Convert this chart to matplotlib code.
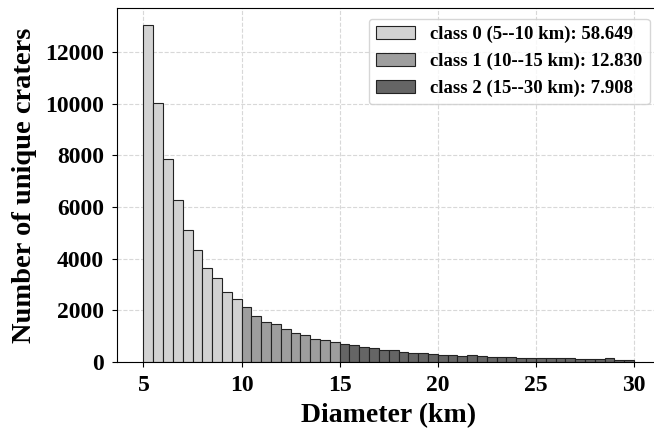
import numpy as np
import matplotlib
matplotlib.use("Agg")
import matplotlib.pyplot as plt

# histogram counts per 0.5 km bin
bin_width = 0.5
class0_counts = [13050, 10040, 7860, 6260, 5100, 4330, 3650, 3229, 2710, 2420]
class1_counts = [2140, 1760, 1530, 1480, 1280, 1095, 1045, 885, 845, 770]
class2_counts = [690, 635, 570, 540, 445, 470, 395, 340, 324, 315,
                 265, 262, 238, 275, 235, 198, 170, 168, 148, 130,
                 128, 127, 126, 125, 106, 105, 104, 145, 66, 63]
class_starts = [5, 10, 15]
class_labels = ["class 0 (5--10 km): 58.649",
                "class 1 (10--15 km): 12.830",
                "class 2 (15--30 km): 7.908"]
class_colors = ["#d2d2d2", "#9e9e9e", "#656565"]

plt.rcParams["font.family"] = ["Liberation Serif", "DejaVu Serif"]
plt.rcParams["font.weight"] = "bold"

fig = plt.figure(figsize=(6.54, 4.30), dpi=100)
# the right part of the axes runs past the picture edge, as in the reference
ax = fig.add_axes([0.1789, 0.1588, 0.831, 0.8219])

for start, counts, color, label in zip(class_starts,
                                       [class0_counts, class1_counts, class2_counts],
                                       class_colors, class_labels):
    left = start + bin_width * np.arange(len(counts))
    ax.bar(left, counts, width=bin_width, align="edge", color=color,
           edgecolor="#222222", linewidth=0.8, label=label)

ax.set_xlim(3.65, 31.35)
ax.set_ylim(0, 13700)
ax.set_xticks([5, 10, 15, 20, 25, 30])
ax.set_yticks([0, 2000, 4000, 6000, 8000, 10000, 12000])
ax.tick_params(labelsize=17, pad=6)
for lab in ax.get_xticklabels() + ax.get_yticklabels():
    lab.set_fontweight("bold")

ax.set_axisbelow(True)
ax.grid(True, linestyle="--", color="#d8d8d8", linewidth=0.8)

ax.set_xlabel("Diameter (km)", fontsize=20, fontweight="bold", labelpad=5)
ax.set_ylabel("Number of unique craters", fontsize=20.5, fontweight="bold", labelpad=6)

leg = ax.legend(loc="upper right", handlelength=2.1,
                prop={"weight": "bold", "size": 13.5}, borderaxespad=0.55)
leg.get_frame().set_edgecolor("#cccccc")

fig.savefig("out.png", dpi=100)
